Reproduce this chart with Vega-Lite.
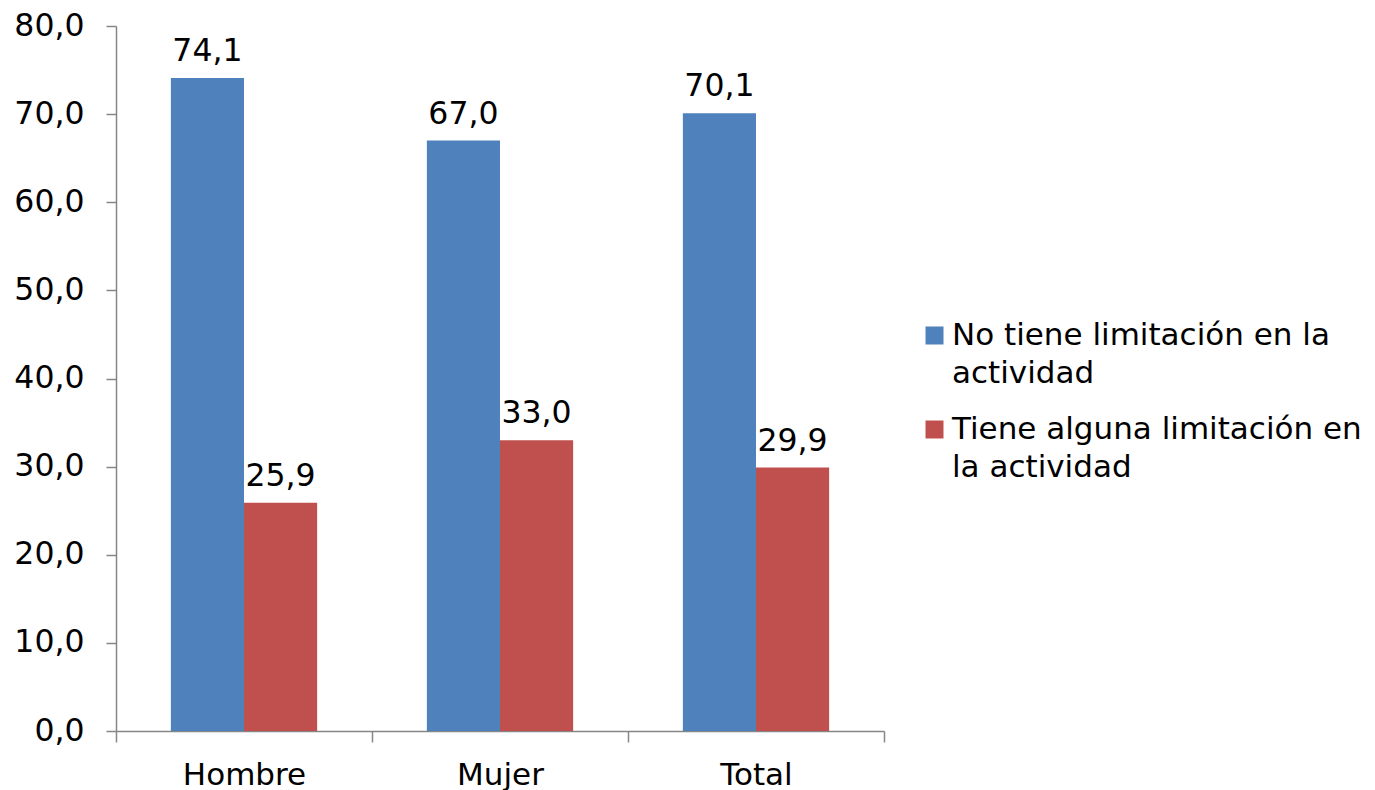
{
  "$schema": "https://vega.github.io/schema/vega-lite/v6.json",
  "autosize": {"type": "none"},
  "width": 768,
  "height": 705,
  "padding": {"left": 116, "top": 26, "right": 491, "bottom": 59},
  "background": "white",
  "config": {
    "font": "DejaVu Sans",
    "view": {"stroke": null},
    "locale": {"number": {"decimal": ",", "thousands": ".", "grouping": [3], "currency": ["", " €"]}},
    "style": {"guide-label": {"lineHeight": 38}}
  },
  "data": {
    "values": [
      {"sexo": "Hombre", "serie": "No tiene limitación en la actividad", "valor": 74.1},
      {"sexo": "Hombre", "serie": "Tiene alguna limitación en la actividad", "valor": 25.9},
      {"sexo": "Mujer", "serie": "No tiene limitación en la actividad", "valor": 67.0},
      {"sexo": "Mujer", "serie": "Tiene alguna limitación en la actividad", "valor": 33.0},
      {"sexo": "Total", "serie": "No tiene limitación en la actividad", "valor": 70.1},
      {"sexo": "Total", "serie": "Tiene alguna limitación en la actividad", "valor": 29.9}
    ]
  },
  "encoding": {
    "x": {
      "field": "sexo", "type": "nominal", "sort": null,
      "scale": {"paddingInner": 0, "paddingOuter": 0},
      "axis": {
        "title": null, "labelAngle": 0, "labelFontSize": 31, "labelColor": "black",
        "labelPadding": 18, "tickSize": 11, "tickBand": "extent",
        "domainColor": "#868686", "tickColor": "#868686", "domainWidth": 1.5, "tickWidth": 1.5, "grid": false
      }
    },
    "xOffset": {
      "field": "serie", "type": "nominal", "sort": null,
      "scale": {"paddingInner": 0, "paddingOuter": 0.75}
    },
    "y": {
      "field": "valor", "type": "quantitative",
      "scale": {"domain": [0, 80], "nice": false},
      "axis": {
        "title": null, "format": ".1f", "values": [0, 10, 20, 30, 40, 50, 60, 70, 80],
        "labelFontSize": 31.5, "labelColor": "black", "labelPadding": 22, "tickSize": 10,
        "domainColor": "#868686", "tickColor": "#868686", "domainWidth": 1.5, "tickWidth": 1.5, "grid": false
      }
    }
  },
  "layer": [
    {
      "mark": {"type": "bar"},
      "encoding": {
        "color": {
          "field": "serie", "type": "nominal", "sort": null,
          "scale": {"range": ["#4F81BD", "#C0504D"]},
          "legend": {
            "title": null, "orient": "none", "legendX": 803, "legendY": 294,
            "symbolType": "square", "symbolSize": 324, "symbolStrokeWidth": 0,
            "labelFontSize": 31, "labelColor": "black", "labelLimit": 600, "labelOffset": 2,
            "rowPadding": 24, "padding": 0,
            "labelExpr": "datum.label == 'No tiene limitación en la actividad' ? ['No tiene limitación en la', 'actividad'] : ['Tiene alguna limitación en', 'la actividad']"
          }
        }
      }
    },
    {
      "mark": {"type": "text", "baseline": "alphabetic", "dy": -17, "fontSize": 31.5, "color": "black"},
      "encoding": {
        "text": {"field": "valor", "type": "quantitative", "format": ".1f"}
      }
    }
  ]
}
